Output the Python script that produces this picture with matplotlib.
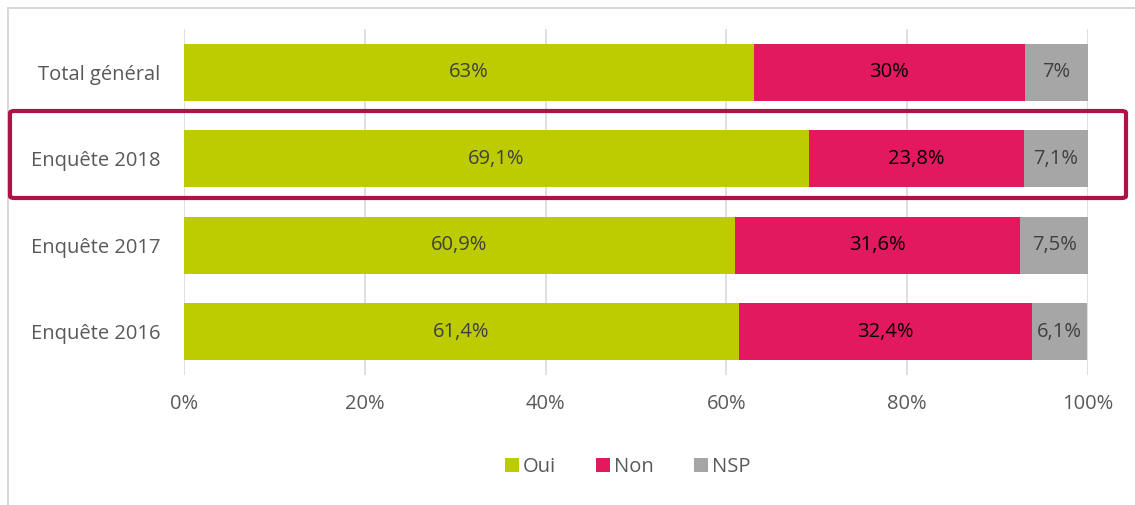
import matplotlib.pyplot as plt
import matplotlib.patches as patches

# Chart data
categories = ["Total général", "Enquête 2018", "Enquête 2017", "Enquête 2016"]
series_names = ["Oui", "Non", "NSP"]
oui = [63, 69.1, 60.9, 61.4]
non = [30, 23.8, 31.6, 32.4]
nsp = [7, 7.1, 7.5, 6.1]
labels_oui = ["63%", "69,1%", "60,9%", "61,4%"]
labels_non = ["30%", "23,8%", "31,6%", "32,4%"]
labels_nsp = ["7%", "7,1%", "7,5%", "6,1%"]
xticks = [0, 20, 40, 60, 80, 100]

colours = ["#BDCC00", "#E2195E", "#A6A6A6"]
text_colours = ["#404040", "#000000", "#404040"]

plt.rcParams["font.family"] = ["Open Sans", "DejaVu Sans"]
fs = 14.5

fig = plt.figure(figsize=(11.35, 5.05), dpi=100)
ax = fig.add_axes([184 / 1135, 1 - 375 / 505, (1088 - 184) / 1135, (375 - 29) / 505])

ypos = list(range(len(categories)))
left = [0] * len(categories)
values = [oui, non, nsp]
texts = [labels_oui, labels_non, labels_nsp]
for name, vals, labs, col, tcol in zip(series_names, values, texts, colours, text_colours):
    bars = ax.barh(ypos, vals, left=left, height=0.66, color=col, label=name, zorder=2)
    for bar, lab in zip(bars, labs):
        ax.text(
            bar.get_x() + bar.get_width() / 2,
            bar.get_y() + bar.get_height() / 2,
            lab,
            ha="center",
            va="center",
            fontsize=fs,
            color=tcol,
            zorder=3,
        )
    left = [a + b for a, b in zip(left, vals)]

ax.set_xlim(0, 100)
ax.set_ylim(len(categories) - 0.5, -0.5)
ax.set_xticks(xticks)
ax.set_xticklabels([f"{t}%" for t in xticks])
ax.set_yticks(ypos)
ax.set_yticklabels(categories)
ax.tick_params(axis="both", length=0, labelsize=fs, colors="#595959")
ax.tick_params(axis="x", pad=14)
ax.tick_params(axis="y", pad=17)
ax.xaxis.grid(True, color="#D9D9D9", linewidth=1.2, zorder=0)
ax.set_axisbelow(True)
for spine in ax.spines.values():
    spine.set_visible(False)

# Outer chart frame (only left and top edges visible in the picture)
frame = patches.Rectangle(
    (8 / 1135, -0.1), 1.2, 1 - 8 / 505 + 0.1,
    transform=fig.transFigure, fill=False, edgecolor="#D9D9D9", linewidth=1.5,
)
fig.patches.append(frame)

# Highlight box around 2018
box = patches.FancyBboxPatch(
    (10 / 1135, 1 - 198 / 505), (1126 - 10) / 1135, (198 - 111) / 505,
    boxstyle="round,pad=0,rounding_size=0.004",
    transform=fig.transFigure, fill=False, edgecolor="#AD1249", linewidth=3,
    clip_on=False,
)
fig.patches.append(box)

fig.legend(
    loc="center", bbox_to_anchor=(0.553, 1 - 467 / 505), ncol=3, frameon=False,
    fontsize=fs, labelcolor="#595959", handlelength=0.7, handleheight=0.7,
    handletextpad=0.2, columnspacing=2.0,
)

fig.savefig("out.png", dpi=100)
